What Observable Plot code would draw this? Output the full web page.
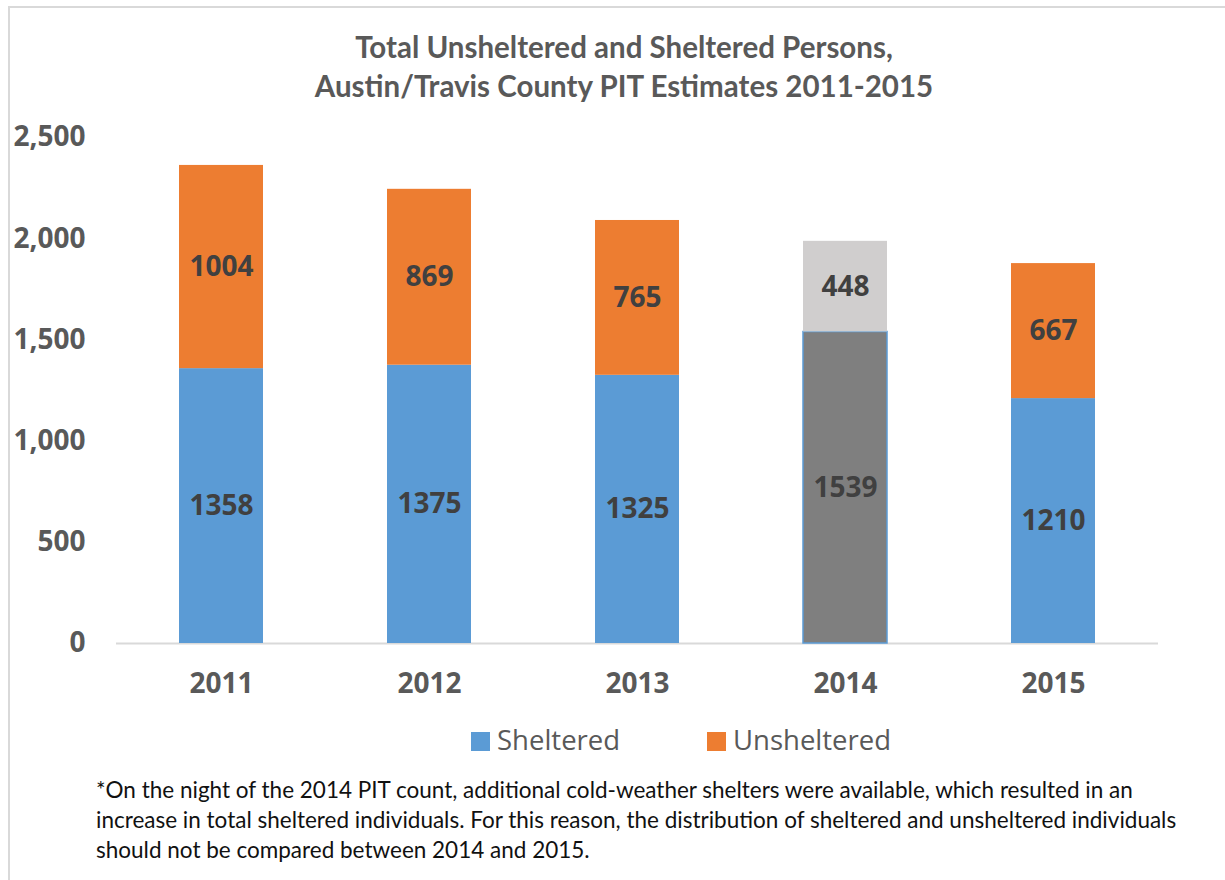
<!DOCTYPE html>
<html>
<head>
<meta charset="utf-8">
<script src="https://cdn.jsdelivr.net/npm/d3@7"></script>
<script src="https://cdn.jsdelivr.net/npm/@observablehq/plot@0.6"></script>
<style>
  html, body { margin: 0; padding: 0; background: #fff; }
  #page { position: relative; width: 1225px; height: 880px; overflow: hidden; }
  #frame { position: absolute; left: 8px; top: 6px; width: 1300px; height: 1000px;
           border-top: 2px solid #d9d9d9; border-left: 2px solid #d9d9d9; }
  #title { position: absolute; left: 0; top: 27px; width: 1248px; text-align: center;
           font-family: Lato, "Open Sans", sans-serif; font-weight: bold; font-size: 29.5px;
           line-height: 39px; color: #595959; }
  #chart { position: absolute; left: 0; top: 110px; }
  #legend { position: absolute; top: 720px; left: 0; width: 1225px; height: 40px;
            font-family: "Open Sans", sans-serif; font-size: 27.5px; color: #595959; }
  .sw { position: absolute; width: 19px; height: 19px; top: 12px; }
  .lt { position: absolute; top: 0; line-height: 40px; white-space: nowrap; }
  #note { position: absolute; left: 96px; top: 775px; width: 1125px; white-space: nowrap;
          font-family: Lato, "Open Sans", sans-serif; font-size: 22.5px; line-height: 30px; color: #111; }
</style>
</head>
<body>
<div id="page">
  <div id="frame"></div>
  <div id="title">Total Unsheltered and Sheltered Persons,<br>Austin/Travis County PIT Estimates 2011-2015</div>
  <div id="chart"></div>
  <div id="legend">
    <div class="sw" style="left:471px;background:#5B9BD5"></div><div class="lt" style="left:497px">Sheltered</div>
    <div class="sw" style="left:707px;background:#ED7D31"></div><div class="lt" style="left:733px">Unsheltered</div>
  </div>
  <div id="note">*On the night of the 2014 PIT count, additional cold-weather shelters were available, which resulted in an<br>increase in total sheltered individuals. For this reason, the distribution of sheltered and unsheltered individuals<br>should not be compared between 2014 and 2015.</div>
</div>
<script>
const years = ["2011", "2012", "2013", "2014", "2015"];
const sheltered = [1358, 1375, 1325, 1539, 1210];
const unsheltered = [1004, 869, 765, 448, 667];
const yTicks = [0, 500, 1000, 1500, 2000, 2500];

const colors = {
  sheltered: "#5B9BD5", unsheltered: "#ED7D31",
  sheltered2014: "#7F7F7F", unsheltered2014: "#D0CECE"
};

const rows = [];
years.forEach((yr, i) => {
  rows.push({year: yr, type: "Sheltered", value: sheltered[i], y1: 0, y2: sheltered[i],
             fill: yr === "2014" ? colors.sheltered2014 : colors.sheltered,
             stroke: yr === "2014" ? colors.sheltered : "none"});
  rows.push({year: yr, type: "Unsheltered", value: unsheltered[i], y1: sheltered[i], y2: sheltered[i] + unsheltered[i],
             fill: yr === "2014" ? colors.unsheltered2014 : colors.unsheltered,
             stroke: "none"});
});

const chart = Plot.plot({
  width: 1225,
  height: 610,
  marginLeft: 116,
  marginRight: 67,
  marginTop: 27,
  marginBottom: 77,
  style: { background: "transparent", overflow: "visible" },
  x: { domain: years, paddingInner: 0.595, paddingOuter: 0.2975, label: null },
  y: { domain: [0, 2500], label: null },
  color: { type: "identity" },
  marks: [
    Plot.axisY({ ticks: yTicks, tickFormat: d3.format(","), tickSize: 0, tickPadding: 31,
                 fontSize: 28, fontWeight: "bold", fill: "#595959", fontFamily: "Open Sans", label: null }),
    Plot.axisX({ tickSize: 0, tickPadding: 30, fontSize: 28, fontWeight: "bold", fill: "#595959",
                 fontFamily: "Open Sans", label: null }),
    Plot.ruleY([0], { stroke: "#d9d9d9", strokeWidth: 2 }),
    Plot.barY(rows, { x: "year", y1: "y1", y2: "y2", fill: "fill", stroke: "stroke", strokeWidth: 1.5 }),
    Plot.text(rows, { x: "year", y: d => (d.y1 + d.y2) / 2, text: d => String(d.value),
                      fontSize: 28, fontWeight: "bold", fill: "#404040", fontFamily: "Open Sans" })
  ]
});
document.getElementById("chart").appendChild(chart);
</script>
</body>
</html>
